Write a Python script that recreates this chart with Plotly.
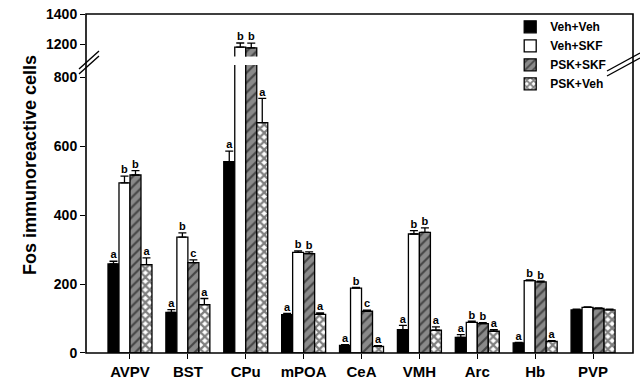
import plotly.graph_objects as go

regions = ["AVPV", "BST", "CPu", "mPOA", "CeA", "VMH", "Arc", "Hb", "PVP"]
series_names = ["Veh+Veh", "Veh+SKF", "PSK+SKF", "PSK+Veh"]

veh_veh = [258, 118, 555, 111, 22, 68, 45, 29, 125]
veh_veh_err = [8, 8, 30, 4, 2, 12, 8, 2, 2]
veh_skf = [493, 336, 1180, 292, 188, 345, 89, 210, 132]
veh_skf_err = [20, 12, 27, 4, 2, 10, 3, 2, 2]
psk_skf = [516, 262, 1174, 288, 121, 350, 85, 206, 129]
psk_skf_err = [13, 8, 32, 5, 3, 13, 3, 2, 2]
psk_veh = [256, 140, 668, 112, 19, 66, 63, 34, 125]
psk_veh_err = [20, 18, 70, 4, 2, 10, 5, 2, 2]

lab_vv = ["a", "a", "a", "a", "a", "a", "a", "a", ""]
lab_vs = ["b", "b", "b", "b", "b", "b", "b", "b", ""]
lab_ps = ["b", "c", "b", "b", "c", "b", "b", "b", ""]
lab_pv = ["a", "a", "a", "a", "a", "a", "a", "a", ""]

values = [veh_veh, veh_skf, psk_skf, psk_veh]
errors = [veh_veh_err, veh_skf_err, psk_skf_err, psk_veh_err]
labels = [lab_vv, lab_vs, lab_ps, lab_pv]

LOW_MAX = 835
UP_MIN, UP_MAX = 1118, 1400

markers = [
    dict(color="black", line=dict(color="black", width=1.3)),
    dict(color="white", line=dict(color="black", width=1.3)),
    dict(color="#8a8a8a", line=dict(color="black", width=1.3),
         pattern=dict(shape="/", fgcolor="black", bgcolor="#8a8a8a", size=7, solidity=0.3)),
    dict(color="white", line=dict(color="black", width=1.3),
         pattern=dict(shape="x", fgcolor="black", bgcolor="white", size=6, solidity=0.6)),
]

x = list(range(len(regions)))
fig = go.Figure()

for yax, show in (("y", True), ("y2", False)):
    for k in range(4):
        fig.add_trace(go.Bar(
            x=x, y=values[k], name=series_names[k], marker=markers[k],
            error_y=dict(type="data", array=errors[k], arrayminus=[0] * len(x),
                         symmetric=False, color="black", thickness=1.3, width=4),
            xaxis="x" if yax == "y" else "x2", yaxis=yax, showlegend=show,
        ))

bargap = 0.24
bw = (1 - bargap) / 4
for k in range(4):
    off = (k - 1.5) * bw
    for yax in ("y", "y2"):
        xs, ys, ts = [], [], []
        for i in x:
            if not labels[k][i]:
                continue
            top = values[k][i] + errors[k][i]
            upper = top > LOW_MAX
            if (yax == "y2") != upper:
                continue
            xs.append(i + off)
            ys.append(top)
            ts.append(labels[k][i])
        fig.add_trace(go.Scatter(
            x=xs, y=ys, text=ts, mode="text", textposition="top center",
            textfont=dict(size=11, color="black", family="Liberation Sans, Arial", weight="bold"),
            xaxis="x" if yax == "y" else "x2", yaxis=yax, showlegend=False, cliponaxis=False,
        ))

def px(xp):
    return (xp - 86) / 547

def py(yp):
    return (353 - yp) / 339

shapes = [
    dict(type="rect", xref="paper", yref="paper", x0=0, x1=1, y0=0, y1=1,
         line=dict(color="black", width=1.6)),
]
for (x0, y0, x1, y1) in [(79, 74, 99, 56), (79, 69, 99, 51), (607, 76, 640, 58), (607, 71, 640, 53)]:
    shapes.append(dict(type="line", xref="paper", yref="paper",
                       x0=px(x0), y0=py(y0), x1=px(x1), y1=py(y1),
                       line=dict(color="black", width=1.4)))

font_b = dict(family="Liberation Sans, Arial", color="black", weight="bold")

fig.update_layout(
    width=640, height=387,
    margin=dict(l=86, r=7, t=14, b=34),
    paper_bgcolor="white", plot_bgcolor="white",
    barmode="group", bargap=bargap, bargroupgap=0,
    showlegend=True,
    legend=dict(x=0.7755, y=1.005, xanchor="left", yanchor="top",
                font=dict(size=12, **font_b), bgcolor="rgba(0,0,0,0)",
                tracegroupgap=0, itemclick=False),
    xaxis=dict(domain=[0, 1], anchor="y", range=[-0.76, 8.69],
               tickmode="array", tickvals=x, ticktext=regions,
               ticks="outside", ticklen=5, tickwidth=1.3, tickcolor="black",
               tickfont=dict(size=15, **font_b), showgrid=False, zeroline=False,
               showline=False),
    xaxis2=dict(domain=[0, 1], anchor="y2", matches="x", range=[-0.76, 8.69],
                showticklabels=False, ticks="", showgrid=False, zeroline=False, showline=False),
    yaxis=dict(domain=[0, 0.8496], range=[0, LOW_MAX], tickmode="array",
               tickvals=[0, 200, 400, 600, 800], ticktext=["0", "200", "400", "600", "800"],
               ticks="outside", ticklen=5, tickwidth=1.3, tickcolor="black",
               tickfont=dict(size=14, **font_b), showgrid=False, zeroline=False, showline=False),
    yaxis2=dict(domain=[0.875, 1], range=[UP_MIN, UP_MAX], tickmode="array",
                tickvals=[1200, 1400], ticktext=["1200", "1400"],
                ticks="outside", ticklen=5, tickwidth=1.3, tickcolor="black",
                tickfont=dict(size=14, **font_b), showgrid=False, zeroline=False, showline=False),
    shapes=shapes,
    annotations=[dict(text="Fos immunoreactive cells", xref="paper", yref="paper",
                      x=px(18), y=py(165), showarrow=False, textangle=-90,
                      font=dict(size=18, **font_b))],
)

fig.write_html("out.html", config={"displayModeBar": False},
               post_script="document.body.style.margin='0';")
